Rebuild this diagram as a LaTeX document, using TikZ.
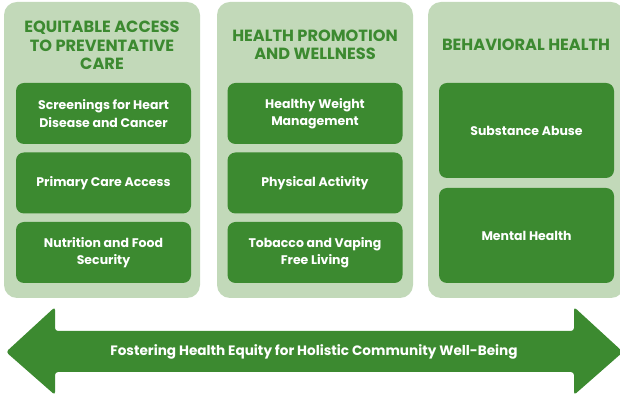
\documentclass[tikz,border=0pt]{standalone}
\usepackage{fontspec}
\setmainfont{Poppins}
\usetikzlibrary{positioning}
\definecolor{green1}{RGB}{60,138,48}
\definecolor{green2}{RGB}{194,217,185}
\tikzstyle{panel} = [rectangle, fill=green2, minimum width=196pt, minimum height=296pt, rounded corners=13pt, inner sep=0pt]
\tikzstyle{block} = [rectangle, fill=green1, text=white, text centered, align=center, minimum width=175pt, minimum height=61pt, rounded corners=8pt, font=\bfseries\fontsize{12.5}{17.5}\selectfont]
\tikzstyle{title} = [text=green1, align=center, font=\bfseries\fontsize{16.2}{18.5}\selectfont]

\begin{document}
\begin{tikzpicture}[x=1pt, y=1pt, node distance=69.5pt, auto]
	\useasboundingbox (0,0) rectangle (620,398);
	% Panels
	\node [panel] (P01) at (102,248) {};
	\node [panel] (P02) at (315,248) {};
	\node [panel] (P03) at (526,248) {};

	\node [title] (T01) at (102,352.5) {EQUITABLE ACCESS\\TO PREVENTATIVE\\CARE};
	\node [title] (T02) at (315,353) {HEALTH PROMOTION\\AND WELLNESS};
	\node [title] (T03) at (526,353) {BEHAVIORAL HEALTH};

	% Equitable access
	\node [block] (B01) at (103.5,284.5) {Screenings for Heart\\Disease and Cancer};
	\node [block, below of=B01] (B02) {Primary Care Access};
	\node [block, below of=B02] (B03) {Nutrition and Food\\Security};

	% Health promotion
	\node [block] (B04) at (315,284.5) {Healthy Weight\\Management};
	\node [block, below of=B04] (B05) {Physical Activity};
	\node [block, below of=B05] (B06) {Tobacco and Vaping\\Free Living};

	% Behavioral health
	\node [block, minimum height=95pt] (B07) at (526.5,267.5) {Substance Abuse};
	\node [block, minimum height=95pt, below of=B07, node distance=105pt] (B08) {Mental Health};

	% Arrow
	\fill [green1, rounded corners=3pt] (6,46) -- (55,91) -- (55,67) -- (574,67) -- (574,91) -- (623,46)
		-- (574,3) -- (574,26) -- (55,26) -- (55,3) -- cycle;
	\node [text=white, font=\bfseries\fontsize{13.6}{15}\selectfont] (A01) at (314,46) {Fostering Health Equity for Holistic Community Well-Being};
\end{tikzpicture}
\end{document}
